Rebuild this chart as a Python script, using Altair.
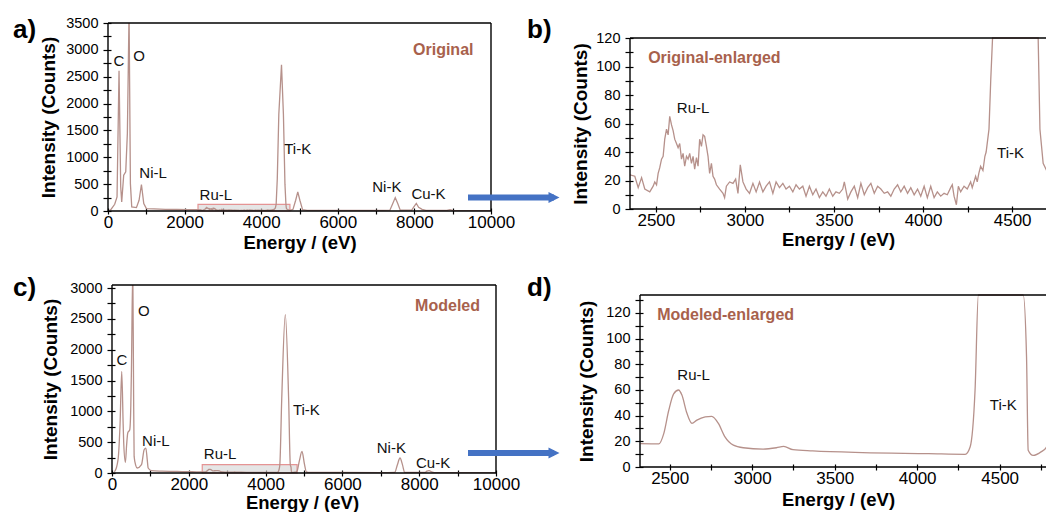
import altair as alt
import pandas as pd

FONT = "Liberation Sans"
LINE = "#b6918b"
BROWN = "#a8614c"
BLUE = "#4472c4"

# ---------------- data ----------------
ORIG_E = [40, 73, 175, 236, 288, 332, 358, 410, 463, 506, 550, 585, 620, 742, 811, 873, 934, 1003,
          1200, 1500, 1800, 2100, 2300, 2354, 2382, 2401, 2420, 2438, 2466, 2485, 2494, 2504, 2513,
          2522, 2532, 2541, 2550, 2560, 2569, 2578, 2588, 2597, 2606, 2616, 2625, 2634, 2644, 2653,
          2662, 2672, 2681, 2690, 2700, 2709, 2718, 2728, 2737, 2746, 2756, 2765, 2774, 2784, 2793,
          2802, 2812, 2821, 2830, 2840, 2858, 2877, 2886, 2896, 2914, 2933, 2948, 2961, 2974, 2989,
          3007, 3026, 3045, 3063, 3082, 3101, 3119, 3138, 3157, 3175, 3194, 3213, 3231, 3250, 3269,
          3287, 3306, 3325, 3343, 3362, 3381, 3399, 3418, 3437, 3455, 3474, 3493, 3511, 3530, 3549,
          3558, 3577, 3595, 3614, 3633, 3651, 3670, 3689, 3707, 3726, 3745, 3763, 3782, 3801, 3819,
          3838, 3857, 3875, 3894, 3913, 3931, 3950, 3969, 3987, 4006, 4024, 4043, 4062, 4080, 4099,
          4118, 4136, 4155, 4164, 4174, 4187, 4198, 4211, 4230, 4248, 4267, 4276, 4295, 4304, 4313,
          4323, 4336, 4347, 4354, 4370, 4380, 4390, 4420, 4460, 4530, 4580, 4620, 4646, 4656, 4674,
          4690, 4720, 4780, 4830, 4900, 4955, 5010, 5080, 5200, 6000, 7000, 7360, 7430, 7500, 7570,
          7630, 7930, 7990, 8050, 8110, 8200, 8300, 8850, 8930, 9000, 10000]
ORIG_I = [20, 26, 125, 262, 2610, 450, 170, 667, 730, 1450, 3700, 510, 75, 63, 200, 493, 138, 45,
          38, 30, 28, 25, 24, 24, 23, 15, 22, 14, 12, 16, 19, 17, 25,
          29, 35, 37, 49, 56, 52, 65, 59, 55, 49, 46, 43, 46, 35, 39,
          30, 37, 35, 39, 32, 37, 28, 36, 30, 49, 44, 52, 51, 44, 37,
          25, 32, 23, 21, 17, 14, 11, 8, 16, 19, 18, 21, 11, 31, 19,
          14, 11, 18, 12, 19, 12, 16, 19, 11, 19, 15, 18, 14, 16, 12,
          17, 14, 16, 9, 16, 10, 14, 8, 12, 9, 14, 9, 12, 11, 14,
          19, 7, 12, 16, 8, 18, 10, 15, 18, 11, 16, 14, 11, 12, 9,
          14, 17, 12, 16, 11, 15, 10, 14, 9, 16, 8, 16, 8, 12, 9,
          11, 10, 15, 17, 9, 3, 16, 12, 16, 14, 19, 15, 23, 19, 25,
          30, 27, 37, 40, 56, 91, 121, 600, 1800, 2720, 1800, 500, 121, 56, 32,
          28, 20, 15, 30, 200, 355, 200, 25, 12, 10, 10, 15, 130, 250, 130,
          15, 15, 80, 140, 70, 30, 12, 10, 25, 10, 5]

MOD_E = [60, 71, 157, 210, 253, 290, 305, 349, 380, 410, 462, 490, 506, 541, 560, 576, 620, 655,
         768, 837, 881, 920, 942, 1029, 1300, 1700, 2000, 2200, 2323, 2434, 2464, 2494, 2524, 2554,
         2574, 2604, 2635, 2665, 2715, 2755, 2795, 2835, 2886, 2946, 3066, 3147, 3191, 3247, 3367,
         3669, 4070, 4291, 4321, 4351, 4371, 4420, 4513, 4600, 4643, 4663, 4673, 4703, 4753, 4781,
         4817, 4880, 4948, 5010, 5061, 5150, 6000, 7000, 7360, 7430, 7500, 7570, 7620, 8150, 8200,
         8258, 8320, 8400, 10000]
MOD_I = [20, 26, 216, 800, 1648, 800, 487, 172, 450, 649, 702, 1100, 1676, 3300, 1500, 269, 120, 81,
         135, 378, 405, 200, 81, 37, 30, 25, 22, 19, 18.2, 18, 26, 44, 57, 60,
         56, 42, 34, 36.5, 39, 39.5, 34, 23.5, 17, 15, 14, 15, 16, 13.5, 12.5,
         11.2, 10.4, 9.9, 15.6, 60, 138, 1200, 2568, 1200, 138, 86, 13, 9, 12, 15,
         30, 200, 350, 150, 20, 10, 8, 7, 10, 130, 243, 120, 10, 8, 30,
         40, 20, 6, 4]

PEAK_LABELS = ["C", "O", "Ni-L", "Ru-L", "Ti-K", "Ni-K", "Cu-K"]
A_LAB_E = [283, 811, 1177, 2816, 4953, 7280, 8368]
A_LAB_I = [2796, 2877, 710, 293, 1153, 448, 325]
C_LAB_E = [261, 828, 1142, 2814, 5061, 7275, 8362]
C_LAB_I = [1836, 2621, 513, 313, 1016, 405, 162]
ZOOM_LABELS = ["Ru-L", "Ti-K"]
B_LAB_E = [2709, 4491]
B_LAB_I = [71, 39]
D_LAB_E = [2645, 4522]
D_LAB_I = [71.6, 48]

A_BOX = [2350, 4750, 0, 125]
C_BOX = [2350, 4820, 0, 135]

orig = pd.DataFrame({"e": ORIG_E, "i": ORIG_I})
mod = pd.DataFrame({"e": MOD_E, "i": MOD_I})
ONE = alt.Data(values=[{"k": 0}])


def xaxis(vals, step, tpad):
    return alt.Axis(values=vals, labelExpr=f"datum.value % {step} === 0 ? '' + datum.value : ''",
                    title="Energy / (eV)", domain=False, grid=False, offset=-3, tickSize=6,
                    tickWidth=1.2, tickColor="black", labelPadding=0, labelFlush=False,
                    labelOverlap=False, labelFont=FONT, labelFontSize=17, labelColor="black",
                    titleFont=FONT, titleFontSize=18.5, titleFontWeight="bold", titleColor="black",
                    titlePadding=tpad)


def yaxis(vals, step, tpad, off, title_y):
    kw = {}
    if title_y is not None:
        kw["titleY"] = title_y
    return alt.Axis(values=vals, labelExpr=f"datum.value % {step} === 0 ? '' + datum.value : ''",
                    title="Intensity (Counts)", domain=False, grid=False, offset=off, tickSize=8,
                    tickWidth=1.2, tickColor="black", labelPadding=5, labelFlush=False,
                    labelOverlap=False, labelFont=FONT, labelFontSize=14.5, labelColor="black",
                    titleFont=FONT, titleFontSize=19, titleFontWeight="bold", titleColor="black",
                    titlePadding=tpad, **kw)


def rule(**enc):
    return alt.Chart(ONE).mark_rule(color="black", strokeWidth=1.4).encode(
        **{k: alt.value(v) for k, v in enc.items()})


def panel(df, interp, W, H, xl, yt, xdom, ydom, xv, xs, yv, ys, xtp, ytp,
          lab_t, lab_e, lab_i, inset, inset_e, inset_i, inset_align,
          letter, lx, ly, right_border, box, arrow, spacer, clamp, emin):
    sx = alt.Scale(domain=xdom, nice=False, zero=False)
    sy = alt.Scale(domain=ydom, nice=False, zero=False)
    ax = xaxis(xv, xs, xtp)
    ay = yaxis(yv, ys, ytp, -(xl + 3), (yt + H) / 2 if yt else None)
    X = alt.X("e:Q", scale=sx, axis=ax)
    Y = alt.Y("i:Q", scale=sy, axis=ay)
    layers = []
    if spacer:
        layers.append(alt.Chart(ONE).mark_rect(color="white").encode(
            x=alt.value(-100), x2=alt.value(-99), y=alt.value(-20), y2=alt.value(-19)))
    if box is not None:
        bdf = pd.DataFrame({"e": [box[0]], "e2": [box[1]], "i": [box[2]], "i2": [box[3]]})
        layers.append(alt.Chart(bdf).mark_rect(fill="#d4d4d4", fillOpacity=0.6, stroke="#e59494",
                                               strokeWidth=1.2).encode(
            x=X, x2="e2:Q", y=Y, y2="i2:Q"))
    ln = alt.Chart(df)
    if emin is not None:
        ln = ln.transform_filter(f"datum.e >= {emin}")
    if clamp is not None:
        ln = ln.transform_calculate(i=f"min(datum.i, {clamp})")
    layers.append(ln.mark_line(clip=True, color=LINE, strokeWidth=1.3,
                               interpolate=interp).encode(x=X, y=Y))
    ldf = pd.DataFrame({"t": lab_t, "e": lab_e, "i": lab_i})
    layers.append(alt.Chart(ldf).mark_text(font=FONT, fontSize=15, color="#111111").encode(
        x=X, y=Y, text="t:N"))
    idf = pd.DataFrame({"t": [inset], "e": [inset_e], "i": [inset_i]})
    layers.append(alt.Chart(idf).mark_text(font=FONT, fontSize=16, fontWeight="bold", color=BROWN,
                                           align=inset_align).encode(x=X, y=Y, text="t:N"))
    # frame
    layers.append(rule(x=xl, x2=W, y=yt))
    layers.append(rule(x=xl, x2=W, y=H))
    layers.append(rule(x=xl, y=yt, y2=H))
    if right_border:
        layers.append(rule(x=W, y=yt, y2=H))
    # panel letter
    layers.append(alt.Chart(ONE).mark_text(text=letter, align="left", baseline="alphabetic",
                                           font=FONT, fontSize=26, fontWeight="bold",
                                           color="black").encode(x=alt.value(lx), y=alt.value(ly)))
    # blue arrow
    if arrow is not None:
        x0, x1, yc = arrow
        layers.append(alt.Chart(ONE).mark_rect(color=BLUE).encode(
            x=alt.value(x0), x2=alt.value(x1), y=alt.value(yc - 3), y2=alt.value(yc + 3)))
        layers.append(alt.Chart(ONE).mark_point(shape="M -1 -1 L 1 0 L -1 1 Z", size=121,
                                                filled=True, color=BLUE, opacity=1,
                                                strokeWidth=0).encode(
            x=alt.value(x1), y=alt.value(yc)))
    return alt.layer(*layers).properties(width=W, height=H)


X_FULL = list(range(0, 10001, 1000))
a = panel(orig, "linear", 383, 188, 0, 0, [0, 10000], [0, 3500], X_FULL, 2000,
          list(range(0, 3501, 250)), 500, 3, 7,
          PEAK_LABELS, A_LAB_E, A_LAB_I, "Original", 8753, 3002, "center",
          "a)", -95, 15, True, A_BOX, [360, 446, 174.5], True, None, None)
b = panel(orig, "linear", 416, 186, 0, 15, [2355, 4690], [0, 130.53],
          list(range(2500, 4501, 250)), 500, list(range(0, 121, 10)), 20, 2, 5,
          ZOOM_LABELS, B_LAB_E, B_LAB_I, "Original-enlarged", 2457, 106, "left",
          "b)", -103, 15, False, None, None, False, 120, None)
c = panel(mod, "monotone", 388, 188, 4, 0, [-104.4, 10000], [0, 3050], X_FULL, 2000,
          list(range(0, 3001, 250)), 500, 1, 9,
          PEAK_LABELS, C_LAB_E, C_LAB_I, "Modeled", 8738, 2702, "center",
          "c)", -95, 11, True, C_BOX, [360, 446, 168], False, None, 0)
d = panel(mod, "monotone", 416, 182, 10, 10, [2259.4, 4781], [0, 141.79],
          list(range(2500, 4751, 250)), 500, list(range(0, 131, 10)), 20, 4, 9,
          ZOOM_LABELS, D_LAB_E, D_LAB_I, "Modeled-enlarged", 2424, 118.5, "left",
          "d)", -103, 11, False, None, None, False, 134, 2320)

chart = alt.concat(a, b, c, d, columns=2, spacing={"row": 74, "column": 106},
                   bounds="flush", align="all").properties(
    padding={"left": 8, "top": 3, "right": 0, "bottom": 0},
    background="white",
).configure_view(stroke=None)

chart.save("out.html", embed_options={"renderer": "svg", "actions": False})
